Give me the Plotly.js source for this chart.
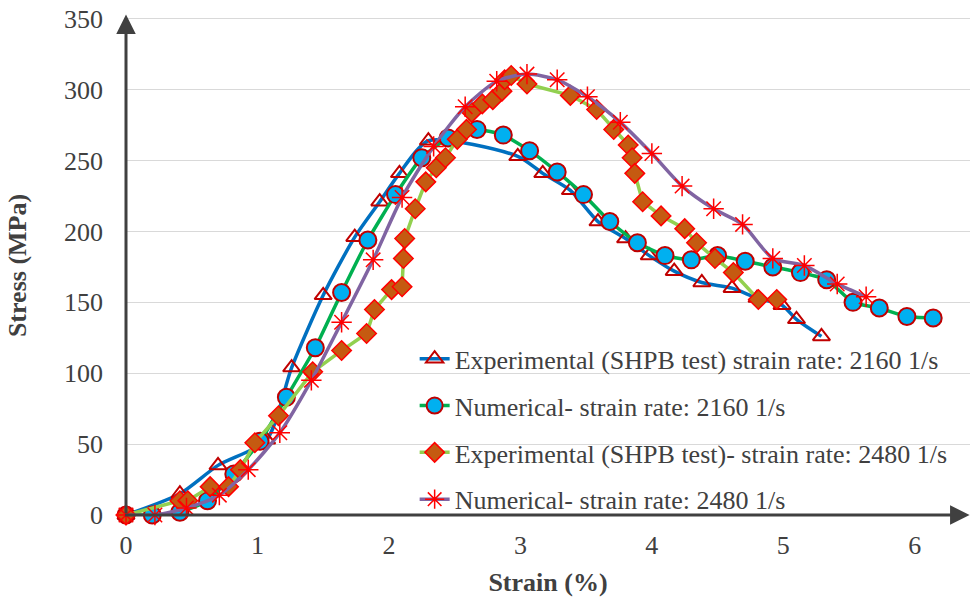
<!DOCTYPE html>
<html><head><meta charset="utf-8">
<script src="https://cdn.plot.ly/plotly-3.0.1.min.js"></script>
<style>html,body{margin:0;padding:0;background:#fff}#chart{width:973px;height:598px}</style>
</head><body><div id="chart"></div>
<script>
const seriesNames = [
  "Experimental (SHPB test) strain rate: 2160 1/s",
  "Numerical- strain rate: 2160 1/s",
  "Experimental (SHPB test)- strain rate: 2480 1/s",
  "Numerical- strain rate: 2480 1/s"
];
const exp2160_x = [0, 0.41, 0.70, 1.07, 1.26, 1.50, 1.74, 1.93, 2.08, 2.30, 2.98, 3.17, 3.38, 3.59, 3.80, 3.98, 4.17, 4.38, 4.61, 4.80, 4.99, 5.10, 5.29];
const exp2160_y = [0, 15, 35, 53, 104, 155, 196, 221, 241, 264, 253, 241, 229, 207, 195, 183, 172, 164, 160, 153, 148, 138, 126];
const num2160_x = [0, 0.20, 0.41, 0.62, 0.82, 1.02, 1.22, 1.44, 1.64, 1.84, 2.05, 2.25, 2.45, 2.67, 2.87, 3.07, 3.28, 3.48, 3.68, 3.89, 4.10, 4.30, 4.50, 4.71, 4.92, 5.13, 5.33, 5.53, 5.73, 5.94, 6.14];
const num2160_y = [0, 0, 2, 10, 29, 52, 83, 118, 157, 194, 226, 252, 266, 272, 268, 257, 242, 226, 207, 192, 183, 180, 183, 179, 175, 171, 166, 150, 146, 140, 139];
const exp2480_x = [0, 0.41, 0.47, 0.64, 0.78, 0.87, 0.98, 1.16, 1.42, 1.64, 1.83, 1.89, 2.02, 2.10, 2.11, 2.12, 2.20, 2.28, 2.36, 2.43, 2.52, 2.59, 2.63, 2.71, 2.79, 2.86, 2.88, 2.93, 3.05, 3.38, 3.58, 3.71, 3.82, 3.85, 3.87, 3.93, 4.07, 4.25, 4.34, 4.48, 4.62, 4.81, 4.95];
const exp2480_y = [0, 10, 10, 20, 20, 32, 51, 70, 101, 116, 128, 145, 159, 161, 181, 195, 216, 235, 245, 252, 265, 272, 284, 290, 293, 299, 307, 310, 304, 296, 286, 272, 261, 252, 241, 221, 211, 202, 192, 181, 171, 152, 152];
const num2480_x = [0, 0.22, 0.46, 0.71, 0.93, 1.17, 1.41, 1.64, 1.88, 2.10, 2.34, 2.58, 2.82, 3.05, 3.28, 3.51, 3.76, 4.00, 4.23, 4.47, 4.69, 4.92, 5.16, 5.41, 5.63];
const num2480_y = [0, 0, 5, 14, 32, 58, 95, 136, 180, 224, 260, 288, 306, 311, 307, 295, 277, 255, 232, 216, 205, 181, 176, 163, 154];
const xTicks = [0, 1, 2, 3, 4, 5, 6];
const yTicks = [0, 50, 100, 150, 200, 250, 300, 350];

const serif = "Liberation Serif, Times New Roman, serif";
const txt = "#404040";
const fs = 26;

const traces = [
  {x: exp2160_x, y: exp2160_y, name: seriesNames[0], legendgroup: "a", mode: "lines+markers",
   line: {color: "#0070C0", width: 3.5, shape: "spline", smoothing: 0.7},
   marker: {symbol: "triangle-up", size: 15, color: "rgba(255,255,255,0)", line: {color: "#C00000", width: 2}}},
  {x: num2160_x, y: num2160_y, name: seriesNames[1], legendgroup: "b", mode: "lines+markers",
   line: {color: "#00B050", width: 3.5, shape: "spline", smoothing: 0.5},
   marker: {symbol: "circle", size: 17, color: "#00B0F0", line: {color: "#C00000", width: 2}}},
  {x: exp2480_x, y: exp2480_y, name: seriesNames[2], legendgroup: "c", mode: "lines+markers",
   line: {color: "#92D050", width: 3.5},
   marker: {symbol: "diamond", size: 15, color: "#C55A11", line: {color: "#FF0000", width: 1.5}}},
  {x: num2480_x, y: num2480_y, name: seriesNames[3], legendgroup: "d", mode: "lines+markers",
   line: {color: "#8064A2", width: 3.5, shape: "spline", smoothing: 0.7},
   marker: {symbol: "asterisk-open", size: 17, color: "#FF0000", line: {color: "#FF0000", width: 1.5}}}
];
traces.forEach(t => t.cliponaxis = false);

const layout = {
  width: 973, height: 598,
  margin: {l: 126, r: 3, t: 16, b: 83},
  paper_bgcolor: "#fff", plot_bgcolor: "#fff",
  showlegend: true,
  font: {family: serif, color: txt, size: fs},
  xaxis: {range: [0, 6.42], tickvals: xTicks, ticktext: xTicks.map(String), showgrid: false, zeroline: false,
    showline: false, ticks: "", ticklabelstandoff: 12, tickfont: {family: serif, size: fs, color: txt},
    title: {text: "<b>Strain (%)</b>", font: {family: serif, size: fs, color: txt}, standoff: 13}},
  yaxis: {range: [0, 352], tickvals: yTicks, ticktext: yTicks.map(String), showgrid: true, gridcolor: "#D9D9D9", gridwidth: 1,
    zeroline: false, showline: false, ticks: "", ticklabelstandoff: 22, tickfont: {family: serif, size: fs, color: txt},
    title: {text: "<b>Stress (MPa)</b>", font: {family: serif, size: fs, color: txt}, standoff: 29}},
  legend: {x: 0.342, y: 0.36, xanchor: "left", yanchor: "top", bgcolor: "rgba(0,0,0,0)", traceorder: "grouped",
    tracegroupgap: 10, font: {family: serif, size: fs, color: txt}},
  annotations: [
    {xref: "paper", yref: "paper", x: 0, y: 1.003, ax: 0, ay: 500, axref: "pixel", ayref: "pixel", text: "", showarrow: true,
     arrowhead: 2, arrowsize: 1.3, arrowwidth: 3, arrowcolor: "#404040", standoff: 0},
    {xref: "paper", yref: "paper", x: 0.9995, y: 0, ax: -846, ay: 0, axref: "pixel", ayref: "pixel", text: "", showarrow: true,
     arrowhead: 2, arrowsize: 1.3, arrowwidth: 3, arrowcolor: "#404040", standoff: 0}
  ]
};
Plotly.newPlot("chart", traces, layout, {displayModeBar: false, staticPlot: true});
</script></body></html>
